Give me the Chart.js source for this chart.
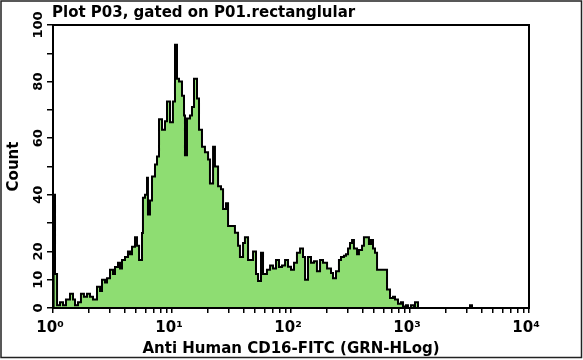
<!DOCTYPE html>
<html>
<head>
<meta charset="utf-8">
<script src="https://cdn.jsdelivr.net/npm/chart.js@4.4.0/dist/chart.umd.min.js"></script>
<style>
    html, body { margin: 0; padding: 0; background: #fff; }
    #wrap { width: 583px; height: 360px; }
</style>
</head>
<body>
<div id="wrap"><canvas id="histChart" width="583" height="360"></canvas></div>
<script>
const plotTitle = 'Plot P03, gated on P01.rectanglular';
const xAxisTitle = 'Anti Human CD16-FITC (GRN-HLog)';
const yAxisTitle = 'Count';
const decadeLabels = ['10⁰', '10¹', '10²', '10³', '10⁴'];
const countTicks = [0, 10, 20, 40, 60, 80, 100];

// channel position in decades (log10 of intensity)
const channelLog = [
    0, 0.005, 0.017, 0.034, 0.059, 0.084, 0.109, 0.143, 0.168, 0.185,
    0.21, 0.235, 0.26, 0.286, 0.311, 0.336, 0.37, 0.395, 0.412, 0.437,
    0.454, 0.479, 0.504, 0.521, 0.546, 0.563, 0.58, 0.605, 0.63, 0.647,
    0.664, 0.689, 0.706, 0.723, 0.748, 0.756, 0.773, 0.79, 0.798, 0.815,
    0.832, 0.857, 0.874, 0.891, 0.916, 0.941, 0.958, 0.983, 1.008, 1.025,
    1.042, 1.059, 1.084, 1.101, 1.109, 1.126, 1.151, 1.168, 1.185, 1.21,
    1.227, 1.252, 1.277, 1.303, 1.319, 1.345, 1.361, 1.387, 1.412, 1.429,
    1.454, 1.471, 1.504, 1.529, 1.555, 1.571, 1.597, 1.613, 1.639, 1.672,
    1.681, 1.706, 1.723, 1.748, 1.765, 1.798, 1.824, 1.849, 1.874, 1.899,
    1.924, 1.95, 1.975, 2.0, 2.025, 2.05, 2.076, 2.101, 2.118, 2.143,
    2.168, 2.193, 2.218, 2.244, 2.269, 2.303, 2.336, 2.353, 2.378, 2.403,
    2.42, 2.445, 2.462, 2.479, 2.496, 2.513, 2.529, 2.555, 2.571, 2.597,
    2.613, 2.639, 2.655, 2.672, 2.689, 2.706, 2.723, 2.748, 2.79, 2.807,
    2.832, 2.857, 2.874, 2.899, 2.924, 2.941, 2.966, 2.983, 3.008, 3.034,
    3.042, 3.067, 3.504, 3.521, 4.0
];

// events per channel
const channelCount = [
    0, 40, 12, 1, 2, 1, 3, 5, 3, 1,
    2, 5, 4, 5, 4, 3, 7.5, 6, 10, 9,
    10.5, 13.5, 12, 14.5, 16, 14, 17, 18, 20, 19,
    21.6, 25, 22, 17, 26.5, 39, 40, 46, 33, 38,
    46.5, 50.7, 53.5, 66.7, 63, 66, 73, 65.6, 73, 93,
    81, 80, 75, 68, 54, 67, 68, 71, 81, 74,
    63, 57, 55, 52.5, 44, 57, 50, 43, 42, 35,
    37, 29, 29, 26.6, 22, 18, 23, 25, 17, 17,
    20, 12, 9.5, 19.5, 12, 13.5, 15, 14, 17, 14.5,
    15, 17, 14.6, 13.5, 16, 19.5, 21, 18, 10, 18,
    16, 16.5, 13, 17, 16, 14, 12.4, 10.5, 13, 17,
    18, 18.5, 19, 21, 23, 24, 21, 19, 20.5, 22,
    25, 25, 22.6, 24, 21, 19.5, 13.5, 13.5, 13.5, 6.5,
    3.5, 4, 3, 1.5, 2, 0.5, 1, 0, 1, 0,
    2, 0, 1, 0, 0
];

// log axis tick marks: 1..9 in every decade
const minorSteps = [1, 2, 3, 4, 5, 6, 7, 8, 9];

const chartDecor = {
    id: 'chartDecor',
    afterDatasetsDraw(chart) {
        const { ctx, chartArea: a } = chart;
        ctx.save();
        ctx.strokeStyle = '#000';
        ctx.lineWidth = 2;
        ctx.strokeRect(a.left, a.top, a.right - a.left, a.bottom - a.top);
        ctx.restore();
    },
    afterDraw(chart) {
        const { ctx, scales } = chart;
        ctx.save();
        // outer frame of the picture
        ctx.strokeStyle = '#222';
        ctx.lineWidth = 1.5;
        ctx.strokeRect(1, 1, 580.5, 356.5);

        ctx.fillStyle = '#000';
        ctx.font = 'bold 15px "DejaVu Sans"';
        ctx.textAlign = 'left';
        ctx.textBaseline = 'middle';
        ctx.fillText(plotTitle, 52, 13);

        // rotated count labels
        ctx.font = 'bold 13px "DejaVu Sans"';
        ctx.textAlign = 'center';
        countTicks.forEach(v => {
            const y = scales.y.getPixelForValue(v);
            ctx.save();
            ctx.translate(39, y);
            ctx.rotate(-Math.PI / 2);
            ctx.fillText(String(v), 0, 0);
            ctx.restore();
        });
        ctx.restore();
    }
};

new Chart(document.getElementById('histChart').getContext('2d'), {
    type: 'line',
    data: {
        datasets: [{
            data: channelLog.map((x, i) => ({ x, y: channelCount[i] })),
            borderColor: '#000',
            borderWidth: 2,
            backgroundColor: '#8EDD72',
            fill: 'origin',
            stepped: true,
            pointRadius: 0
        }]
    },
    options: {
        responsive: false,
        animation: false,
        devicePixelRatio: 1,
        layout: {
            padding: { top: 25, right: 54, left: 0, bottom: 0 }
        },
        plugins: {
            legend: { display: false },
            tooltip: { enabled: false }
        },
        scales: {
            x: {
                type: 'linear',
                min: 0,
                max: 4,
                afterBuildTicks: scale => {
                    const t = [];
                    for (let d = 0; d < 4; d++) {
                        minorSteps.forEach(k => t.push({ value: d + Math.log10(k) }));
                    }
                    t.push({ value: 4 });
                    scale.ticks = t;
                },
                afterFit: scale => { scale.height = 52; },
                ticks: {
                    autoSkip: false,
                    maxRotation: 0,
                    padding: 6,
                    labelOffset: -3,
                    color: '#000',
                    font: { family: 'DejaVu Sans', size: 15, weight: 'bold' },
                    callback: value => Number.isInteger(value) ? decadeLabels[value] : ''
                },
                grid: {
                    drawOnChartArea: false,
                    color: '#000',
                    lineWidth: 1.5,
                    tickLength: 5
                },
                border: { color: '#000', width: 2 },
                title: {
                    display: true,
                    text: xAxisTitle,
                    color: '#000',
                    font: { family: 'DejaVu Sans', size: 15, weight: 'bold' },
                    padding: { top: 0, bottom: 2 }
                }
            },
            y: {
                min: 0,
                max: 100,
                afterFit: scale => { scale.width = 53; },
                ticks: { stepSize: 10, display: false },
                grid: {
                    drawOnChartArea: false,
                    color: '#000',
                    lineWidth: 1.5,
                    tickLength: 6
                },
                border: { color: '#000', width: 2 },
                title: {
                    display: true,
                    text: yAxisTitle,
                    color: '#000',
                    font: { family: 'DejaVu Sans', size: 15, weight: 'bold' },
                    padding: { top: 5, bottom: 0 }
                }
            }
        }
    },
    plugins: [chartDecor]
});
</script>
</body>
</html>
